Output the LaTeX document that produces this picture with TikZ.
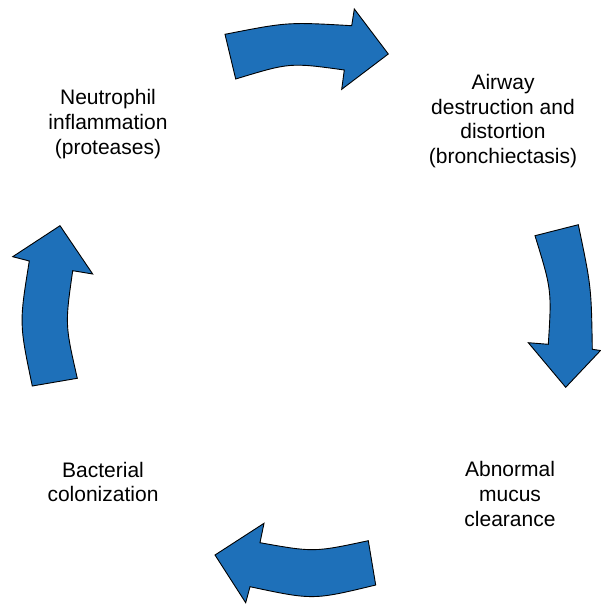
\documentclass[tikz,border=0pt]{standalone}
\usepackage{fontspec}
\setmainfont{Liberation Sans}
\definecolor{arrowblue}{RGB}{30,112,185}
\begin{document}
\begin{tikzpicture}[x=1pt,y=-1pt,
  cyclearrow/.style={fill=arrowblue,draw=black,line width=0.9pt,line join=miter},
  lbl/.style={align=center,font=\fontsize{21}{24.7}\selectfont,inner sep=0pt}]
\useasboundingbox (0,0) rectangle (600,604);
% top arrow
\draw[cyclearrow] (225,34.3) .. controls (287.7,22) .. (351.7,25.7) -- (354.3,9) -- (388.3,54) -- (341.7,89.3) -- (344.3,70) .. controls (290,62.5) .. (235.7,79) -- cycle;
% right arrow
\draw[cyclearrow] (578.3,224.7) .. controls (591.3,287) .. (592.3,349.3) -- (600.5,350.5) -- (565.7,387.3) -- (528.3,342.7) -- (548.3,344.3) .. controls (551.7,290) .. (535,235.7) -- cycle;
% bottom arrow
\draw[cyclearrow] (375.7,585) .. controls (313.15,600.15) .. (250,586.7) -- (245.7,602.7) -- (215,555) -- (264,523.3) -- (260,542.7) .. controls (313.85,552.3) .. (368.3,540.7) -- cycle;
% left arrow
\draw[cyclearrow] (32.3,386) .. controls (19.2,323.5) .. (29.3,261) -- (12.7,256.7) -- (60,225.7) -- (92.7,274) -- (72.7,270.7) .. controls (65,324.5) .. (77.3,378.3) -- cycle;
% labels
\node[lbl] (airway) at (503,121) {Airway\\destruction and\\distortion\\(bronchiectasis)};
\node[lbl] (mucus) at (510,494) {Abnormal\\mucus\\clearance};
\node[lbl] (bact) at (103,482) {Bacterial\\colonization};
\node[lbl] (neut) at (108,124) {Neutrophil\\inflammation\\(proteases)};
\end{tikzpicture}
\end{document}
